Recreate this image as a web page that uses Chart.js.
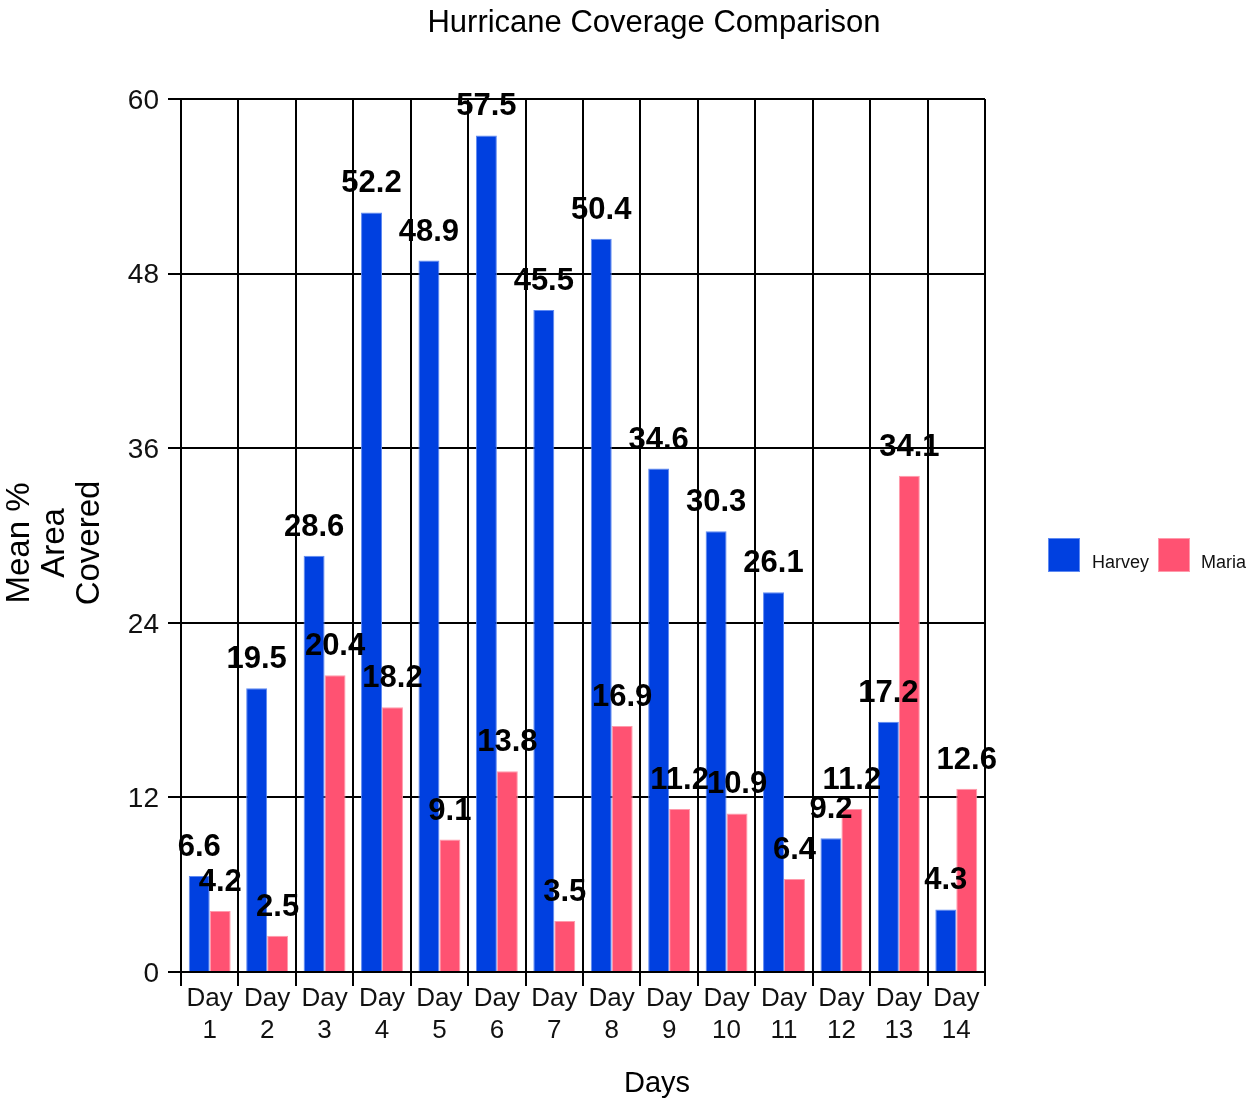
<!DOCTYPE html>
<html>
<head>
<meta charset="utf-8">
<script src="https://cdn.jsdelivr.net/npm/chart.js@4/dist/chart.umd.min.js"></script>
<style>
  html, body { margin: 0; padding: 0; background: #ffffff; }
  #wrap { width: 1254px; height: 1106px; position: relative; }
</style>
</head>
<body>
<div id="wrap"><canvas id="c" width="1254" height="1106"></canvas></div>
<script>
const categories = ["Day 1","Day 2","Day 3","Day 4","Day 5","Day 6","Day 7","Day 8","Day 9","Day 10","Day 11","Day 12","Day 13","Day 14"];
const harvey = [6.6, 19.5, 28.6, 52.2, 48.9, 57.5, 45.5, 50.4, 34.6, 30.3, 26.1, 9.2, 17.2, 4.3];
const maria  = [4.2, 2.5, 20.4, 18.2, 9.1, 13.8, 3.5, 16.9, 11.2, 10.9, 6.4, 11.2, 34.1, 12.6];
const yTicks = [0, 12, 24, 36, 48, 60];
const chartTitle = "Hurricane Coverage Comparison";
const xTitle = "Days";
const yTitle = ["Mean %", "Area", "Covered"];
const seriesNames = ["Harvey", "Maria"];
const seriesColors = ["#0040e0", "#ff5272"];
const seriesBorders = ["#5f8af2", "#ff9aab"];

const FONT = "'Liberation Sans', Arial, Helvetica, sans-serif";

// data labels drawn after bars, before the vertical grid layer (z > 0)
const labelPlugin = {
  id: 'valueLabels',
  afterDatasetsDraw(chart) {
    const ctx = chart.ctx;
    ctx.save();
    ctx.font = "bold 31px " + FONT;
    ctx.fillStyle = "#000";
    ctx.textAlign = "center";
    ctx.textBaseline = "alphabetic";
    chart.data.datasets.forEach((ds, i) => {
      const meta = chart.getDatasetMeta(i);
      meta.data.forEach((bar, j) => {
        ctx.fillText(String(ds.data[j]), bar.x, bar.y - 20);
      });
    });
    ctx.restore();
  }
};

const textPlugin = {
  id: 'texts',
  afterDraw(chart) {
    const ctx = chart.ctx;
    ctx.save();
    ctx.fillStyle = "#000";
    // main title
    ctx.font = "31px " + FONT;
    ctx.textAlign = "center";
    ctx.textBaseline = "middle";
    ctx.fillText(chartTitle, 654, 23);
    // x title
    ctx.font = "29px " + FONT;
    ctx.fillText(xTitle, 657, 1084);
    // y title
    ctx.save();
    ctx.translate(55, 543);
    ctx.rotate(-Math.PI / 2);
    ctx.font = "33px " + FONT;
    yTitle.forEach((line, k) => {
      ctx.fillText(line, 0, (k - 1) * 35);
    });
    ctx.restore();
    // legend
    const items = [
      {x: 1048, tx: 1092},
      {x: 1158, tx: 1201}
    ];
    ctx.font = "18px " + FONT;
    ctx.textAlign = "left";
    ctx.textBaseline = "alphabetic";
    chart.data.datasets.forEach((ds, i) => {
      const it = items[i];
      ctx.fillStyle = ds.backgroundColor;
      ctx.fillRect(it.x, 538, 32, 34);
      ctx.strokeStyle = ds.borderColor;
      ctx.lineWidth = 1;
      ctx.strokeRect(it.x + 0.5, 538.5, 31, 33);
      ctx.fillStyle = "#111";
      ctx.fillText(ds.label, it.tx, 568);
    });
    ctx.restore();
  }
};

new Chart(document.getElementById('c'), {
  type: 'bar',
  data: {
    labels: categories.map(c => c.split(' ')),
    datasets: [
      { label: seriesNames[0], data: harvey, backgroundColor: seriesColors[0], borderColor: seriesBorders[0], borderWidth: 1 },
      { label: seriesNames[1], data: maria, backgroundColor: seriesColors[1], borderColor: seriesBorders[1], borderWidth: 1 }
    ]
  },
  options: {
    responsive: false,
    animation: false,
    devicePixelRatio: 1,
    layout: { padding: { top: 99, right: 269, bottom: 0, left: 0 } },
    plugins: {
      legend: { display: false },
      title: { display: false },
      tooltip: { enabled: false }
    },
    datasets: { bar: { categoryPercentage: 0.73, barPercentage: 1.0 } },
    scales: {
      x: {
        offset: true,
        grid: { display: true, offset: true, z: 1, color: '#000', lineWidth: 2, drawTicks: true, tickLength: 14, tickColor: '#000', tickWidth: 2 },
        border: { display: true, color: '#000', width: 2, z: 1 },
        ticks: { color: '#111', font: { family: FONT, size: 26, lineHeight: 1.23 }, padding: -3, maxRotation: 0, autoSkip: false },
        afterFit(scale) { scale.height = 134; }
      },
      y: {
        min: 0, max: 60,
        afterBuildTicks(scale) { scale.ticks = yTicks.map(v => ({ value: v })); },
        grid: { color: '#000', lineWidth: 2, drawTicks: true, tickLength: 13, tickColor: '#000', tickWidth: 2 },
        border: { display: true, color: '#000', width: 2 },
        ticks: { color: '#111', font: { family: FONT, size: 28 }, padding: 9, labelOffset: 2 },
        afterFit(scale) { scale.width = 181; }
      }
    }
  },
  plugins: [labelPlugin, textPlugin]
});
</script>
</body>
</html>
